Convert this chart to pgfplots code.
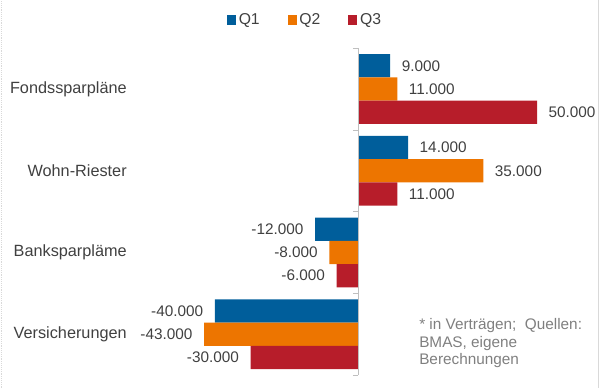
\documentclass[border=0pt]{standalone}
\usepackage{pgfplots}
\pgfplotsset{compat=1.18}
\usepackage{fontspec}
\setmainfont{Liberation Sans}
\definecolor{cQ1}{HTML}{005E9B}
\definecolor{cQ2}{HTML}{ED7500}
\definecolor{cQ3}{HTML}{B71D2A}
\definecolor{labelgray}{HTML}{404040}
\definecolor{footgray}{HTML}{7F7F7F}
\definecolor{bordergray}{HTML}{D9D9D9}
\definecolor{zerogray}{HTML}{BFBFBF}
\begin{document}
\fontsize{11.5}{13.8}\selectfont
\begin{tikzpicture}
\begin{axis}[
  at={(0,0)}, anchor=south west,
  scale only axis, width=450pt, height=291pt,
  xbar, bar width=0.284,
  xmin=-100000, xmax=67598,
  ymin=-1.0887, ymax=3.6575, y dir=reverse,
  axis line style={draw=none}, tick style={draw=none},
  xtick=\empty, ytick={0,1,2,3},
  yticklabels={Fondssparpläne, Wohn-Riester, Banksparpläme, Versicherungen},
  yticklabel style={anchor=east, inner sep=0pt, xshift=99.5pt, text=labelgray, font=\fontsize{12.2}{14.4}\selectfont},
  clip=false,
  point meta=x,
  nodes near coords,
  nodes near coords style={text=labelgray, inner xsep=8.5pt, inner ysep=0pt, font=\fontsize{11.5}{13.8}\selectfont,
    /pgf/number format/.cd, fixed, precision=0, 1000 sep={.}, assume math mode=true},
  legend style={at={(axis description cs:0.509,0.9485)}, anchor=center, draw=none, fill=none,
    legend columns=3, font=\fontsize{11.8}{14}\selectfont, text=labelgray,
    nodes={inner xsep=2pt},
    /tikz/every even column/.append style={column sep=19pt}},
]
\addplot[fill=cQ1, draw=none, bar shift=-0.284,
  legend image code/.code={\fill[cQ1] (0pt,-3.4pt) rectangle (6.75pt,3.4pt);}]
  coordinates {(9000,0) (14000,1) (-12000,2) (-40000,3)};
\addplot[fill=cQ2, draw=none, bar shift=0,
  legend image code/.code={\fill[cQ2] (0pt,-3.4pt) rectangle (6.75pt,3.4pt);}]
  coordinates {(11000,0) (35000,1) (-8000,2) (-43000,3)};
\addplot[fill=cQ3, draw=none, bar shift=0.284,
  legend image code/.code={\fill[cQ3] (0pt,-3.4pt) rectangle (6.75pt,3.4pt);}]
  coordinates {(50000,0) (11000,1) (-6000,2) (-30000,3)};
\legend{Q1, Q2, Q3}
\draw[zerogray] (axis cs:0,-0.5) -- (axis cs:0,3.5);
\draw[zerogray] (axis cs:-1400,-0.5) -- (axis cs:0,-0.5);
\draw[zerogray] (axis cs:-1400,0.5) -- (axis cs:0,0.5);
\draw[zerogray] (axis cs:-1400,1.5) -- (axis cs:0,1.5);
\draw[zerogray] (axis cs:-1400,2.5) -- (axis cs:0,2.5);
\draw[zerogray] (axis cs:-1400,3.5) -- (axis cs:0,3.5);
\draw[bordergray, densely dotted] (axis description cs:0.0015,0) -- (axis description cs:0.0015,1);
\draw[bordergray] (axis description cs:0.9975,0) -- (axis description cs:0.9975,1);
\node[anchor=base west, inner sep=0pt, text=footgray] at (axis description cs:0.6983,0.1495) {* in Verträgen;\ \ Quellen:};
\node[anchor=base west, inner sep=0pt, text=footgray] at (axis description cs:0.6983,0.1031) {BMAS, eigene};
\node[anchor=base west, inner sep=0pt, text=footgray] at (axis description cs:0.6983,0.0593) {Berechnungen};
\end{axis}
\pgfresetboundingbox
\useasboundingbox (0,0) rectangle (450pt,291pt);
\end{tikzpicture}
\end{document}
